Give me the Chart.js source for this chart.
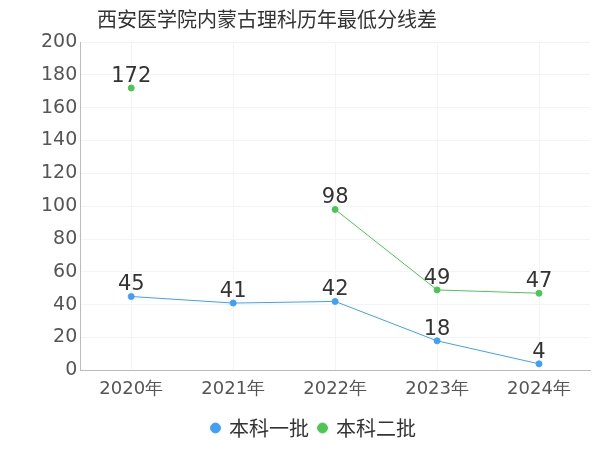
<!DOCTYPE html>
<html><head><meta charset="utf-8">
<script src="https://cdn.jsdelivr.net/npm/chart.js@4"></script>
<style>body{margin:0;background:#fff}#w{width:600px;height:450px}</style>
</head><body><div id="w"><canvas id="c"></canvas></div>
<script>
const categories=["2020年","2021年","2022年","2023年","2024年"];
const series1Name="本科一批";
const series1=[45,41,42,18,4];
const series2Name="本科二批";
const series2=[172,null,98,49,47];
const titleText="西安医学院内蒙古理科历年最低分线差";
const labelPlugin={id:'lbl',afterDatasetsDraw(ch){const ctx=ch.ctx;ctx.save();ctx.font='21px "DejaVu Sans"';ctx.fillStyle='#333';ctx.textAlign='center';ctx.textBaseline='bottom';
ch.data.datasets.forEach((ds,i)=>{ch.getDatasetMeta(i).data.forEach((p,j)=>{const v=ds.data[j];if(v==null)return;ctx.fillText(v,p.x,p.y-1);});});
ctx.font='20px "Noto Sans CJK SC"';ctx.textAlign='left';ctx.textBaseline='middle';ctx.fillText(titleText,97,19);
ctx.restore();}};
new Chart(document.getElementById('c'),{type:'line',data:{labels:categories,datasets:[
{label:series1Name,data:series1,borderColor:'#3fa0f7',backgroundColor:'#3fa0f7',borderWidth:1,pointRadius:3},
{label:series2Name,data:series2,borderColor:'#4cc653',backgroundColor:'#4cc653',borderWidth:1,pointRadius:3,spanGaps:false}]},
options:{responsive:true,maintainAspectRatio:false,animation:false,
layout:{padding:{left:38,right:10,top:42,bottom:2}},
plugins:{legend:{position:'bottom',labels:{usePointStyle:true,pointStyle:'circle',boxWidth:7,boxHeight:7,font:{size:20,family:'"Noto Sans CJK SC"'},color:'#333'}},tooltip:{enabled:false}},
scales:{x:{offset:true,grid:{color:'#f4f4f4',drawTicks:false},border:{color:'#bbb'},ticks:{font:{size:18,family:'"DejaVu Sans"'},color:'#555',padding:8}},
y:{min:0,max:200,ticks:{stepSize:20,font:{size:19,family:'"DejaVu Sans"'},color:'#555'},grid:{color:'#f4f4f4',drawTicks:false},border:{color:'#bbb'}}}},
plugins:[labelPlugin]});
</script></body></html>
